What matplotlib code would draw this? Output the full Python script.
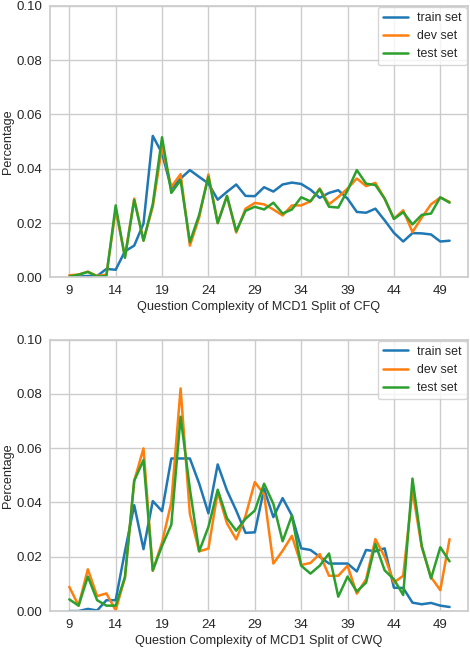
import matplotlib
matplotlib.use("Agg")
import matplotlib.pyplot as plt
import seaborn as sns

complexity = list(range(9, 51))

cfq_train = [0.0003, 0.0003, 0.0005, 0.0005, 0.0031, 0.0028, 0.0096, 0.0117, 0.0198, 0.0521,
             0.0457, 0.0327, 0.0364, 0.0395, 0.0370, 0.0346, 0.0286, 0.0315, 0.0342, 0.0300,
             0.0299, 0.0332, 0.0316, 0.0342, 0.0349, 0.0344, 0.0323, 0.0293, 0.0311, 0.0321,
             0.0290, 0.0241, 0.0238, 0.0253, 0.0210, 0.0164, 0.0132, 0.0163, 0.0162, 0.0158,
             0.0132, 0.0135]
cfq_dev = [0.0008, 0.0010, 0.0021, 0.0005, 0.0010, 0.0247, 0.0077, 0.0290, 0.0136, 0.0260,
           0.0480, 0.0333, 0.0380, 0.0117, 0.0220, 0.0379, 0.0200, 0.0300, 0.0165, 0.0253,
           0.0274, 0.0269, 0.0250, 0.0228, 0.0265, 0.0265, 0.0280, 0.0327, 0.0269, 0.0296,
           0.0327, 0.0364, 0.0336, 0.0348, 0.0290, 0.0216, 0.0247, 0.0167, 0.0220, 0.0269,
           0.0294, 0.0278]
cfq_test = [0.0003, 0.0010, 0.0020, 0.0003, 0.0005, 0.0265, 0.0072, 0.0285, 0.0135, 0.0270,
            0.0516, 0.0311, 0.0358, 0.0130, 0.0230, 0.0370, 0.0200, 0.0300, 0.0170, 0.0245,
            0.0260, 0.0250, 0.0275, 0.0235, 0.0250, 0.0295, 0.0280, 0.0325, 0.0260, 0.0257,
            0.0320, 0.0395, 0.0345, 0.0340, 0.0290, 0.0215, 0.0240, 0.0195, 0.0230, 0.0235,
            0.0295, 0.0275]

cwq_train = [0.0000, 0.0000, 0.0008, 0.0002, 0.0040, 0.0040, 0.0220, 0.0390, 0.0228, 0.0405,
             0.0368, 0.0562, 0.0562, 0.0562, 0.0470, 0.0360, 0.0540, 0.0444, 0.0370, 0.0288,
             0.0290, 0.0450, 0.0346, 0.0416, 0.0352, 0.0231, 0.0225, 0.0200, 0.0175, 0.0175,
             0.0175, 0.0146, 0.0225, 0.0220, 0.0231, 0.0086, 0.0085, 0.0031, 0.0025, 0.0030,
             0.0020, 0.0015]
cwq_dev = [0.0089, 0.0020, 0.0154, 0.0055, 0.0065, 0.0003, 0.0123, 0.0480, 0.0599, 0.0148,
           0.0253, 0.0400, 0.0820, 0.0358, 0.0220, 0.0230, 0.0438, 0.0323, 0.0264, 0.0350,
           0.0475, 0.0430, 0.0175, 0.0222, 0.0277, 0.0170, 0.0177, 0.0210, 0.0130, 0.0130,
           0.0167, 0.0064, 0.0117, 0.0265, 0.0200, 0.0105, 0.0130, 0.0444, 0.0235, 0.0125,
           0.0077, 0.0265]
cwq_test = [0.0043, 0.0020, 0.0127, 0.0040, 0.0020, 0.0020, 0.0125, 0.0480, 0.0556, 0.0150,
            0.0240, 0.0318, 0.0716, 0.0450, 0.0220, 0.0310, 0.0447, 0.0342, 0.0296, 0.0340,
            0.0370, 0.0469, 0.0395, 0.0257, 0.0352, 0.0167, 0.0138, 0.0167, 0.0212, 0.0053,
            0.0127, 0.0072, 0.0105, 0.0247, 0.0150, 0.0117, 0.0059, 0.0488, 0.0240, 0.0120,
            0.0235, 0.0183]

sns.set_theme(style="whitegrid")
plt.rcParams["font.family"] = ["Liberation Sans", "DejaVu Sans"]

fig, axes = plt.subplots(2, 1, figsize=(4.7, 6.48), dpi=100)
panels = [
    (axes[0], cfq_train, cfq_dev, cfq_test, "Question Complexity of MCD1 Split of CFQ"),
    (axes[1], cwq_train, cwq_dev, cwq_test, "Question Complexity of MCD1 Split of CWQ"),
]
for ax, tr, dv, te, xlabel in panels:
    ax.plot(complexity, tr, color="#1f77b4", lw=1.8, label="train set")
    ax.plot(complexity, dv, color="#ff7f0e", lw=1.8, label="dev set")
    ax.plot(complexity, te, color="#2ca02c", lw=1.8, label="test set")
    ax.set_ylim(0, 0.1)
    ax.set_xlim(6.9, 52)
    ax.set_xticks(range(9, 51, 5))
    ax.set_yticks([0, 0.02, 0.04, 0.06, 0.08, 0.10])
    ax.set_yticklabels(["0.00", "0.02", "0.04", "0.06", "0.08", "0.10"])
    ax.tick_params(labelsize=9.5, length=0, pad=5.5)
    ax.set_xlabel(xlabel, fontsize=9.1, labelpad=3)
    ax.set_ylabel("Percentage", fontsize=9.1, labelpad=2)
    ax.legend(loc="upper right", fontsize=8.9, borderaxespad=0.1, handlelength=2.0,
              labelspacing=0.5)

plt.subplots_adjust(left=0.106, right=0.996, top=0.991, bottom=0.057, hspace=0.229)
plt.savefig("out.png", dpi=100)
